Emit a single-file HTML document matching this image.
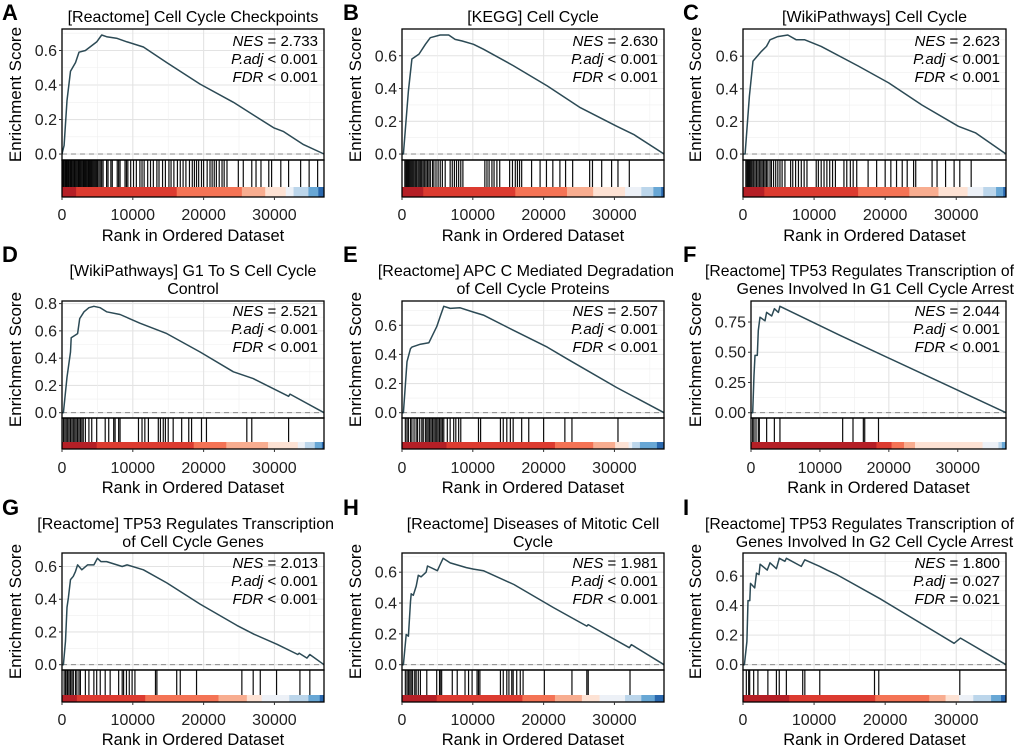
<!DOCTYPE html>
<html><head><meta charset="utf-8"><style>
html,body{margin:0;padding:0;background:#fff;}
svg{display:block;font-family:"Liberation Sans",Arial,sans-serif;}
</style></head><body>
<svg id="fig" width="1020" height="751" viewBox="0 0 1020 751" xmlns="http://www.w3.org/2000/svg"></svg>
<script>
// ---- data ----
const esRanksA=[0,300,700,1200,1900,2400,3300,4900,5600,6300,7800,9200,11500,14800,19500,24200,29900,31300,34100,37000];
const esValsA=[0,0.05,0.31,0.48,0.53,0.59,0.60,0.65,0.69,0.68,0.67,0.65,0.62,0.53,0.405,0.30,0.152,0.13,0.055,0];
const hitsA=[150,250,400,520,600,700,850,950,1100,1200,1350,1450,1600,1750,1850,2000,2150,2300,2400,2550,2700,2850,3000,3100,3250,3400,3550,3700,3800,3950,4100,4250,4400,4550,4700,4850,5000,5200,5400,5600,5800,6300,6500,6900,7100,7800,8000,8200,8900,9100,9300,9700,10100,10500,11000,11300,11600,12100,12500,12900,13400,13700,14200,14600,15100,15400,15800,16300,16700,17100,17500,18000,18400,18700,19000,19300,19700,20000,20500,20900,21200,21500,21800,22200,22600,22900,23300,24900,25600,26800,27400,28100,29200,29600,30900,32000,33700,34900,36100];
const colorBreaksA=[2000,16200,25400,28700,31600,32700,34800,36200,37000];

const esRanksB=[0,200,900,1400,2400,3300,4000,5400,6600,7500,8500,10100,11500,15700,20500,25200,30300,32700,37000];
const esValsB=[0,0,0.385,0.58,0.61,0.67,0.71,0.727,0.727,0.70,0.69,0.67,0.64,0.54,0.416,0.283,0.17,0.12,0];
const hitsB=[400,550,700,850,1000,1150,1300,1450,1600,1800,1950,2100,2300,2500,2650,2800,3000,3200,3400,3600,3800,4000,4300,4500,4800,5100,5400,5700,6100,6800,7100,7400,7700,8000,8300,8600,11700,12000,12300,12700,13000,13400,13800,15200,15600,16000,16300,16600,16900,18300,19500,20400,21300,22300,23100,24100,26500,26900,28200,29600,30500,32100];
const colorBreaksB=[3000,16000,23300,27000,31500,33800,35500,36600,37000];

const esRanksC=[0,300,900,1400,2600,3300,3800,4900,6300,7500,8700,11000,16200,20500,25200,30300,32700,37000];
const esValsC=[0,0,0.355,0.57,0.63,0.66,0.70,0.72,0.73,0.70,0.70,0.66,0.54,0.436,0.30,0.17,0.13,0];
const hitsC=[400,550,700,850,1000,1150,1300,1500,1700,1900,2100,2300,2500,2700,2900,3100,3300,3500,3800,4000,4300,4600,4900,5200,5500,5900,6700,7000,7400,7800,8200,8600,9000,10300,10600,11000,11400,11800,12200,12600,13000,14200,14600,15100,15500,16000,17600,18800,20000,20800,21600,22400,23100,24000,24300,26600,27300,28500,29700,30500,32100];
const colorBreaksC=[3000,16200,23400,27500,31600,33800,35600,36600,37000];

const esRanksD=[0,200,700,1200,1300,1900,2200,2500,3100,3800,4500,5400,6300,8200,11000,14800,19500,24200,27000,32000,32200,37000];
const esValsD=[0,0,0.26,0.445,0.55,0.57,0.58,0.69,0.74,0.77,0.78,0.77,0.74,0.72,0.656,0.58,0.445,0.30,0.25,0.12,0.136,0];
const hitsD=[200,400,600,800,1000,1200,1400,1600,1800,2000,2200,2400,2600,2800,3000,3300,3800,4200,4900,6100,6600,7300,7500,8000,8200,10800,11300,11700,12200,13600,13900,14300,14600,15000,15700,16900,17900,18300,19700,20400,26100,26800,32000];
const colorBreaksD=[4900,18600,23200,29100,33300,34300,35700,36700,37000];

const esRanksE=[0,200,700,1200,1400,2600,3800,4900,5400,5900,6800,8200,10100,11500,15700,20500,23300,30300,37000];
const esValsE=[0,0,0.35,0.44,0.45,0.47,0.48,0.59,0.66,0.73,0.716,0.72,0.69,0.67,0.566,0.45,0.37,0.173,0];
const hitsE=[470,700,900,1200,1400,1700,2000,2200,2500,2800,3000,3300,3500,3700,3900,4100,4300,4500,4700,4900,5100,5300,5500,5700,5900,6400,6800,7300,7600,8000,8300,10800,11100,13900,14300,14800,15300,15700,16900,17900,20000,23000,24000,30500];
const colorBreaksE=[6300,21600,27000,30100,32000,32500,33600,36000,37000];

const esRanksF=[0,240,435,580,920,1060,1300,2030,2270,3000,3390,3970,4200,12900,37000];
const esValsF=[0,0,0.31,0.474,0.474,0.68,0.79,0.76,0.83,0.80,0.86,0.83,0.88,0.64,0];
const hitsF=[240,435,725,1060,1210,2270,3390,4200,13300,14800,16300,16500,18500];
const colorBreaksF=[18200,20400,22200,23800,33600,35900,36400,36900,37000];

const esRanksG=[0,200,500,700,900,1200,1600,1900,2200,2800,3600,4500,5000,5500,6300,8500,9200,11500,14800,19500,24700,27100,30400,33300,33500,34600,35000,37000];
const esValsG=[0,0,0.145,0.35,0.41,0.52,0.54,0.57,0.61,0.58,0.61,0.61,0.65,0.63,0.63,0.60,0.61,0.58,0.50,0.37,0.24,0.186,0.124,0.062,0.07,0.04,0.062,0];
const hitsG=[300,500,700,800,1000,1200,1400,1600,1900,2100,2400,2600,3300,3800,4500,4900,5400,6100,6800,8000,8500,8700,9100,9500,9900,10300,13200,13400,16200,16700,19000,25400,27000,28000,30300,33600,35000];
const colorBreaksG=[2100,11750,22100,26100,28200,32100,34800,36400,37000];

const esRanksH=[0,200,600,900,1200,1300,1600,2000,2300,2700,3400,3600,5000,5300,5800,6800,9100,10100,11500,15800,21400,26100,26300,32100,32400,37000];
const esValsH=[0,0,0.196,0.185,0.41,0.46,0.45,0.51,0.58,0.57,0.60,0.64,0.61,0.64,0.69,0.66,0.63,0.62,0.61,0.52,0.37,0.25,0.26,0.11,0.13,0];
const hitsH=[470,700,900,1100,1300,1500,1800,2000,2300,2600,3500,4900,5300,5400,5600,7100,7800,8900,9400,9900,10600,10800,11000,13900,14300,14800,15100,15500,15700,16200,16700,17100,20100,24000,26100,26300,32200];
const colorBreaksH=[4900,17000,21600,25400,27900,31500,33800,35700,37000];

const esRanksI=[0,200,550,700,950,1050,1650,1900,2250,2400,3400,3800,4700,5100,5900,6100,8200,8700,10800,11800,13200,19300,29700,30600,37000];
const esValsI=[0,0,0.157,0.434,0.434,0.55,0.52,0.62,0.61,0.68,0.64,0.69,0.65,0.72,0.70,0.72,0.665,0.71,0.665,0.64,0.61,0.446,0.145,0.18,0];
const hitsI=[470,800,940,1500,2100,3500,4700,5100,6100,8400,8700,10800,18500,19100,30500];
const colorBreaksI=[6500,18600,26200,28500,30400,32400,34900,36300,37000];

const titles=[["[Reactome] Cell Cycle Checkpoints"],["[KEGG] Cell Cycle"],["[WikiPathways] Cell Cycle"],
["[WikiPathways] G1 To S Cell Cycle","Control"],["[Reactome] APC C Mediated Degradation","of Cell Cycle Proteins"],["[Reactome] TP53 Regulates Transcription of","Genes Involved In G1 Cell Cycle Arrest"],
["[Reactome] TP53 Regulates Transcription","of Cell Cycle Genes"],["[Reactome] Diseases of Mitotic Cell","Cycle"],["[Reactome] TP53 Regulates Transcription of","Genes Involved In G2 Cell Cycle Arrest"]];
const nesVals=["2.733","2.630","2.623","2.521","2.507","2.044","2.013","1.981","1.800"];
const padjVals=["< 0.001","< 0.001","< 0.001","< 0.001","< 0.001","< 0.001","< 0.001","< 0.001","= 0.027"];
const fdrVals=["< 0.001","< 0.001","< 0.001","< 0.001","< 0.001","< 0.001","< 0.001","< 0.001","= 0.021"];
const yTickLabels=[["0.0","0.2","0.4","0.6"],["0.0","0.2","0.4","0.6"],["0.0","0.2","0.4","0.6"],["0.0","0.2","0.4","0.6","0.8"],["0.0","0.2","0.4","0.6"],["0.00","0.25","0.50","0.75"],["0.0","0.2","0.4","0.6"],["0.0","0.2","0.4","0.6"],["0.0","0.2","0.4","0.6"]];
const xTickLabels=["0","10000","20000","30000"];
const panelLetters=["A","B","C","D","E","F","G","H","I"];
const rankMax=37000;

const allRanks=[esRanksA,esRanksB,esRanksC,esRanksD,esRanksE,esRanksF,esRanksG,esRanksH,esRanksI];
const allVals=[esValsA,esValsB,esValsC,esValsD,esValsE,esValsF,esValsG,esValsH,esValsI];
const allHits=[hitsA,hitsB,hitsC,hitsD,hitsE,hitsF,hitsG,hitsH,hitsI];
const allBreaks=[colorBreaksA,colorBreaksB,colorBreaksC,colorBreaksD,colorBreaksE,colorBreaksF,colorBreaksG,colorBreaksH,colorBreaksI];

// ---- layout ----
const palette=['#b51f26','#dc3b30','#f47355','#f8ad90','#fde2d4','#edf1f7','#bcd6eb','#68a7d5','#2a68ae'];
const lefts=[62,402,743,62,402,751,62,402,743];
const rights=[324,664,1006];
const rowGeo=[{top:29,esB:160,hitB:187,bot:197,t1:22,letter:20,nes:46,xl:220,xt:241},
{top:301,esB:418,hitB:442,bot:449,t1:276,letter:262,nes:316,xl:473,xt:493},
{top:553,esB:670,hitB:695,bot:702,t1:529,letter:515,nes:568,xl:725,xt:745}];
const letterX=[2,343,683];
const yTitleX=[15,355,695];
const colLeft=[0,340,680];
const NS="http://www.w3.org/2000/svg";
const svg=document.getElementById('fig');
function mk(tag,attrs,parent){const e=document.createElementNS(NS,tag);for(const k in attrs)e.setAttribute(k,attrs[k]);(parent||svg).appendChild(e);return e;}

for(let p=0;p<9;p++){
  const row=Math.floor(p/3),col=p%3,g=rowGeo[row];
  const L=lefts[p],R=rights[col];
  const grp=mk('g',{});
  
  
  const vals=allVals[p],ranks=allRanks[p];
  const M=Math.max(...vals);
  const yMin=-0.05*M,yMax=1.05*M;
  const ys=v=>g.esB-(v-yMin)/(yMax-yMin)*(g.esB-g.top);
  const xs=r=>L+r/rankMax*(R-L);
  const gridG=mk('g',{},grp);
  
  
  const ticks=yTickLabels[p].map(Number);
  const step=ticks[1]-ticks[0];
  for(let i=0;i<ticks.length;i++){
    mk('line',{x1:L,x2:R,y1:ys(ticks[i]),y2:ys(ticks[i]),stroke:'#e3e3e3','stroke-width':1.1},gridG);
    const mid=ticks[i]+step/2;
    if(ys(mid)>g.top) mk('line',{x1:L,x2:R,y1:ys(mid),y2:ys(mid),stroke:'#efefef','stroke-width':0.6},gridG);
  }
  for(let r=0;r<=35000;r+=5000){
    const major=r%10000===0;
    mk('line',{x1:xs(r),x2:xs(r),y1:g.top,y2:g.esB,stroke:major?'#e3e3e3':'#efefef','stroke-width':major?1.1:0.6},gridG);
  }
  const z=mk('line',{x1:L,x2:R,y1:ys(0),y2:ys(0),stroke:'#8c8c8c','stroke-width':1,'stroke-dasharray':'5,4'},grp);
  
  
  let d='';
  for(let i=0;i<ranks.length;i++) d+=(i?'L':'M')+xs(ranks[i]).toFixed(1)+','+ys(vals[i]).toFixed(1);
  const cv=mk('path',{d:d,fill:'none',stroke:'#2c4a55','stroke-width':1.5,'stroke-linejoin':'round'},grp);
  
  
  const hg=mk('g',{},grp);
  
  
  allHits[p].forEach(h=>{
    const ln=mk('line',{x1:xs(h),x2:xs(h),y1:g.esB,y2:g.hitB,stroke:'#000','stroke-width':1.2,'stroke-opacity':0.95},hg);
    
    
  });
  const cg=mk('g',{},grp);
  
  
  let prev=0;
  allBreaks[p].forEach((b,i)=>{
    const rc=mk('rect',{x:xs(prev),y:g.hitB,width:Math.max(0,xs(b)-xs(prev))+0.3,height:g.bot-g.hitB,fill:palette[i]},cg);
    
    
    prev=b;
  });
  mk('rect',{x:L,y:g.top,width:R-L,height:g.esB-g.top,fill:'none',stroke:'#000','stroke-width':1.3},grp);
  mk('rect',{x:L,y:g.esB,width:R-L,height:g.bot-g.esB,fill:'none',stroke:'#000','stroke-width':1.3},grp);
  const yax=mk('g',{},grp);
  
  
  yTickLabels[p].forEach((t,i)=>{
    const y=ys(ticks[i]);
    mk('line',{x1:L-3,x2:L,y1:y,y2:y,stroke:'#333','stroke-width':1},yax);
    const tx=mk('text',{x:L-5,y:y+5.5,'text-anchor':'end','font-size':16,fill:'#222'},yax);
    tx.textContent=t;
  });
  const xax=mk('g',{},grp);
  
  
  xTickLabels.forEach(t=>{
    const x=xs(Number(t));
    mk('line',{x1:x,x2:x,y1:g.bot,y2:g.bot+3,stroke:'#333','stroke-width':1},xax);
    const tx=mk('text',{x:x,y:g.xl,'text-anchor':'middle','font-size':16,fill:'#222'},xax);
    tx.textContent=t;
  });
  const xt=mk('text',{x:(L+R)/2,y:g.xt,'text-anchor':'middle','font-size':16.5,fill:'#000'},grp);
  
  
  xt.textContent='Rank in Ordered Dataset';
  const ycy=(g.top+g.esB)/2, ycx=yTitleX[col];
  const yt=mk('text',{x:ycx,y:ycy+6,'text-anchor':'middle','font-size':17,fill:'#000',transform:'rotate(-90 '+ycx+' '+ycy+')'},grp);
  
  
  yt.textContent='Enrichment Score';
  const minX=colLeft[col]+25, maxX=colLeft[col]+334;
  titles[p].forEach((ln,i)=>{
    const tt=mk('text',{x:(L+R)/2,y:g.t1+i*18,'text-anchor':'middle','font-size':16,fill:'#000'},grp);
    
    
    tt.textContent=ln;
    let w=tt.getComputedTextLength();
    if(w>maxX-minX){
      tt.setAttribute('textLength',maxX-minX);
      tt.setAttribute('lengthAdjust','spacingAndGlyphs');
      tt.setAttribute('x',(minX+maxX)/2);
    } else if((L+R)/2+w/2>maxX){
      tt.setAttribute('x',maxX-w/2);
    }
  });
  const lt=mk('text',{x:letterX[col],y:g.letter,'font-size':22,'font-weight':'bold',fill:'#000'},grp);
  
  
  lt.textContent=panelLetters[p];
  const st=[['NES',' = '+nesVals[p]],['P.adj',' '+padjVals[p]],['FDR',' '+fdrVals[p]]];
  st.forEach((s,i)=>{
    const tx=mk('text',{x:R-6,y:g.nes+i*18,'text-anchor':'end','font-size':15,fill:'#000'},grp);
    
    
    const a=mk('tspan',{'font-style':'italic'},tx);a.textContent=s[0];
    const b=mk('tspan',{},tx);b.textContent=s[1];
  });
}
</script>
</body></html>
